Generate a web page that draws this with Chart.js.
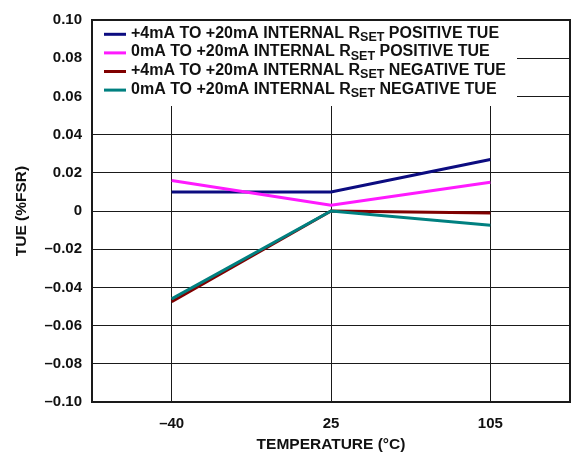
<!DOCTYPE html>
<html><head><meta charset="utf-8">
<script src="https://cdn.jsdelivr.net/npm/chart.js@4/dist/chart.umd.min.js"></script>
<style>html,body{margin:0;padding:0;background:#fff}#wrap{width:578px;height:452px}</style>
</head><body><div id="wrap"><canvas id="c" width="578" height="452"></canvas></div>
<script>
const categories = ['–40', '25', '105'];
const pos4mAInternal = [0.010, 0.010, 0.027];
const pos0mAInternal = [0.016, 0.003, 0.015];
const neg4mAInternal = [-0.0475, 0.000, -0.001];
const neg0mAInternal = [-0.046, 0.000, -0.0075];
const seriesLabels = [
  '+4mA TO +20mA INTERNAL R_SET POSITIVE TUE',
  '0mA TO +20mA INTERNAL R_SET POSITIVE TUE',
  '+4mA TO +20mA INTERNAL R_SET NEGATIVE TUE',
  '0mA TO +20mA INTERNAL R_SET NEGATIVE TUE'
];
const seriesColors = ['#0c0c80', '#ff1aff', '#800000', '#008080'];
const yMin = -0.10, yMax = 0.10, yStep = 0.02;
const xTitle = 'TEMPERATURE (°C)';
const yTitle = 'TUE (%FSR)';

const FONT = '"Liberation Sans", Arial, Helvetica, sans-serif';

const framePlugin = {
  id: 'frame',
  beforeDatasetsDraw(chart) {
    const {ctx, chartArea: a} = chart;
    ctx.save();
    ctx.fillStyle = '#fff';
    ctx.fillRect(a.left + 1, a.top + 1, 424, 85);
    ctx.restore();
  },
  afterDatasetsDraw(chart) {
    const {ctx, chartArea: a} = chart;
    ctx.save();
    ctx.strokeStyle = '#1a1a1a';
    ctx.lineWidth = 2;
    ctx.strokeRect(a.left, a.top, a.right - a.left, a.bottom - a.top);
    const x0 = a.left + 12, x1 = a.left + 34, tx = a.left + 39;
    chart.data.datasets.forEach((ds, i) => {
      const y = a.top + 14.3 + i * 18.6;
      ctx.strokeStyle = ds.borderColor;
      ctx.lineWidth = 3;
      ctx.beginPath(); ctx.moveTo(x0, y); ctx.lineTo(x1, y); ctx.stroke();
      const parts = ds.label.split('_');
      ctx.fillStyle = '#111';
      ctx.textBaseline = 'middle';
      ctx.textAlign = 'left';
      ctx.font = 'bold 16px ' + FONT;
      let x = tx;
      ctx.fillText(parts[0], x, y - 1);
      x += ctx.measureText(parts[0]).width;
      const m = parts[1].match(/^(\S+)(.*)$/);
      ctx.font = 'bold 12.5px ' + FONT;
      ctx.fillText(m[1], x, y + 3.5);
      x += ctx.measureText(m[1]).width;
      ctx.font = 'bold 16px ' + FONT;
      ctx.fillText(m[2], x, y - 1);
    });
    ctx.restore();
  }
};

const datasets = [pos4mAInternal, pos0mAInternal, neg4mAInternal, neg0mAInternal].map((d, i) => ({
  label: seriesLabels[i],
  data: d,
  borderColor: seriesColors[i],
  backgroundColor: seriesColors[i],
  borderWidth: 3,
  pointRadius: 0,
  tension: 0,
  fill: false,
  order: 3 - i
}));

new Chart(document.getElementById('c'), {
  type: 'line',
  data: { labels: categories, datasets },
  options: {
    responsive: false,
    animation: false,
    layout: { padding: { top: 20, right: 8, bottom: 0, left: 0 } },
    plugins: { legend: { display: false }, tooltip: { enabled: false } },
    scales: {
      x: {
        type: 'category',
        offset: true,
        grid: { offset: false, color: '#1a1a1a', lineWidth: 1, drawTicks: false },
        border: { display: false },
        ticks: { color: '#111', font: { family: FONT, size: 15, weight: 'bold' }, padding: 13, maxRotation: 0 },
        title: { display: true, text: xTitle, color: '#111', font: { family: FONT, size: 15.5, weight: 'bold' }, padding: { top: 0, bottom: -2 } },
        afterFit(s) { s.height = 50; }
      },
      y: {
        min: yMin, max: yMax,
        grid: { color: '#1a1a1a', lineWidth: 1, drawTicks: false },
        border: { display: false },
        ticks: {
          stepSize: yStep,
          color: '#111',
          font: { family: FONT, size: 15, weight: 'bold' },
          padding: 10,
          callback(v) {
            if (Math.abs(v) < 1e-9) return '0';
            return (v < 0 ? '–' : '') + Math.abs(v).toFixed(2);
          }
        },
        title: { display: true, text: yTitle, color: '#111', font: { family: FONT, size: 15.5, weight: 'bold' }, padding: { top: 12, bottom: 0 } },
        afterFit(s) { s.width = 92; }
      }
    }
  },
  plugins: [framePlugin]
});
</script></body></html>
